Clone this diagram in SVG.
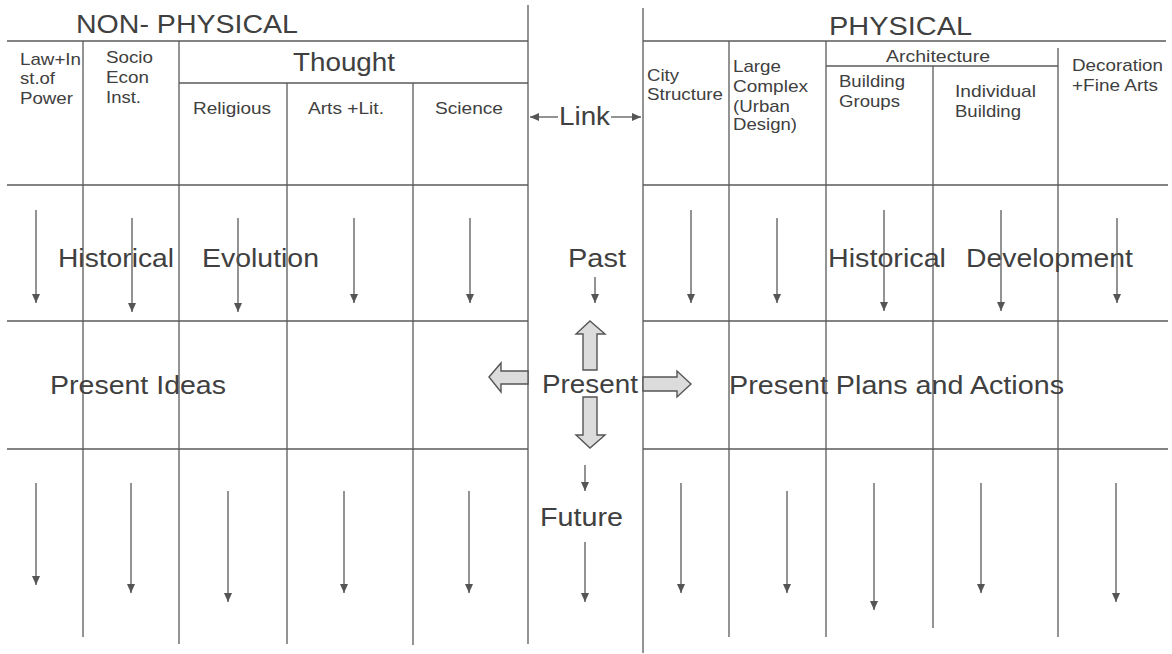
<svg xmlns="http://www.w3.org/2000/svg" width="1172" height="654" viewBox="0 0 1172 654">
<defs>
<marker id="ah" markerWidth="9" markerHeight="8" refX="9" refY="4" orient="auto" markerUnits="userSpaceOnUse" viewBox="0 0 9 8">
<path d="M0,0 L9,4 L0,8 Z" fill="#555"/>
</marker>
<style>
.g{stroke:#5a5a5a;stroke-width:1.3;fill:none}
.t{font-family:"Liberation Sans",Arial,sans-serif;fill:#404040}
.s{font-size:17px}
.b{font-size:26px}
.ar{stroke:#5a5a5a;stroke-width:1.3;fill:none}
.blk{fill:#dcdcdc;stroke:#555;stroke-width:1.4}
</style>
</defs>
<rect width="1172" height="654" fill="#fff"/>

<g id="grid">
<line class="g" x1="7" y1="41" x2="528" y2="41"/>
<line class="g" x1="179" y1="83" x2="528" y2="83"/>
<line class="g" x1="7" y1="185" x2="528" y2="185"/>
<line class="g" x1="7" y1="321" x2="528" y2="321"/>
<line class="g" x1="7" y1="449" x2="528" y2="449"/>
<line class="g" x1="83" y1="41" x2="83" y2="637"/>
<line class="g" x1="179" y1="41" x2="179" y2="644"/>
<line class="g" x1="287" y1="83" x2="287" y2="644"/>
<line class="g" x1="413" y1="83" x2="413" y2="645"/>
<line class="g" x1="528" y1="5" x2="528" y2="644"/>
<line class="g" x1="643" y1="8" x2="643" y2="653"/>
<line class="g" x1="643" y1="41" x2="1166" y2="41"/>
<line class="g" x1="643" y1="185" x2="1168" y2="185"/>
<line class="g" x1="643" y1="321" x2="1168" y2="321"/>
<line class="g" x1="643" y1="449" x2="1168" y2="449"/>
<line class="g" x1="729" y1="41" x2="729" y2="637"/>
<line class="g" x1="826" y1="41" x2="826" y2="637"/>
<line class="g" x1="826" y1="66" x2="1058" y2="66"/>
<line class="g" x1="933" y1="66" x2="933" y2="628"/>
<line class="g" x1="1058" y1="48" x2="1058" y2="637"/>
</g>

<g id="nonphysical-header">
<text class="t b" x="76" y="33" textLength="222" lengthAdjust="spacingAndGlyphs">NON- PHYSICAL</text>
<text class="t s" x="20" y="65" textLength="61" lengthAdjust="spacingAndGlyphs">Law+In</text>
<text class="t s" x="20" y="84" textLength="35" lengthAdjust="spacingAndGlyphs">st.of</text>
<text class="t s" x="20" y="104" textLength="53" lengthAdjust="spacingAndGlyphs">Power</text>
<text class="t s" x="106" y="63" textLength="47" lengthAdjust="spacingAndGlyphs">Socio</text>
<text class="t s" x="106" y="83" textLength="43" lengthAdjust="spacingAndGlyphs">Econ</text>
<text class="t s" x="106" y="103" textLength="35" lengthAdjust="spacingAndGlyphs">Inst.</text>
<text class="t b" x="293" y="71" textLength="102" lengthAdjust="spacingAndGlyphs">Thought</text>
<text class="t s" x="193" y="114" textLength="78" lengthAdjust="spacingAndGlyphs">Religious</text>
<text class="t s" x="308" y="114" textLength="76" lengthAdjust="spacingAndGlyphs">Arts +Lit.</text>
<text class="t s" x="435" y="114" textLength="68" lengthAdjust="spacingAndGlyphs">Science</text>
</g>

<g id="physical-header">
<text class="t b" x="829" y="35" textLength="143" lengthAdjust="spacingAndGlyphs">PHYSICAL</text>
<text class="t s" x="647" y="81" textLength="32" lengthAdjust="spacingAndGlyphs">City</text>
<text class="t s" x="647" y="100" textLength="76" lengthAdjust="spacingAndGlyphs">Structure</text>
<text class="t s" x="733" y="72" textLength="48" lengthAdjust="spacingAndGlyphs">Large</text>
<text class="t s" x="733" y="92" textLength="75" lengthAdjust="spacingAndGlyphs">Complex</text>
<text class="t s" x="733" y="112" textLength="57" lengthAdjust="spacingAndGlyphs">(Urban</text>
<text class="t s" x="733" y="130" textLength="64" lengthAdjust="spacingAndGlyphs">Design)</text>
<text class="t s" x="886" y="62" textLength="104" lengthAdjust="spacingAndGlyphs">Architecture</text>
<text class="t s" x="839" y="87" textLength="66" lengthAdjust="spacingAndGlyphs">Building</text>
<text class="t s" x="839" y="107" textLength="61" lengthAdjust="spacingAndGlyphs">Groups</text>
<text class="t s" x="955" y="97" textLength="81" lengthAdjust="spacingAndGlyphs">Individual</text>
<text class="t s" x="955" y="117" textLength="66" lengthAdjust="spacingAndGlyphs">Building</text>
<text class="t s" x="1072" y="71" textLength="91" lengthAdjust="spacingAndGlyphs">Decoration</text>
<text class="t s" x="1072" y="91" textLength="86" lengthAdjust="spacingAndGlyphs">+Fine Arts</text>
</g>

<g id="row-labels">
<text class="t b" x="58" y="267" textLength="116" lengthAdjust="spacingAndGlyphs">Historical</text>
<text class="t b" x="202" y="267" textLength="117" lengthAdjust="spacingAndGlyphs">Evolution</text>
<text class="t b" x="828" y="267" textLength="118" lengthAdjust="spacingAndGlyphs">Historical</text>
<text class="t b" x="966" y="267" textLength="167" lengthAdjust="spacingAndGlyphs">Development</text>
<text class="t b" x="50" y="394" textLength="176" lengthAdjust="spacingAndGlyphs">Present Ideas</text>
<text class="t b" x="729" y="394" textLength="335" lengthAdjust="spacingAndGlyphs">Present Plans and Actions</text>
</g>

<g id="center">
<text class="t b" x="559" y="125" textLength="51" lengthAdjust="spacingAndGlyphs">Link</text>
<text class="t b" x="568" y="267" textLength="58" lengthAdjust="spacingAndGlyphs">Past</text>
<text class="t b" x="542" y="393" textLength="96" lengthAdjust="spacingAndGlyphs">Present</text>
<text class="t b" x="540" y="526" textLength="83" lengthAdjust="spacingAndGlyphs">Future</text>
</g>

<g id="connectors">
<line class="ar" x1="558" y1="117" x2="530" y2="117" marker-end="url(#ah)"/>
<line class="ar" x1="611" y1="117" x2="641" y2="117" marker-end="url(#ah)"/>
<line class="ar" x1="36" y1="210" x2="36" y2="303" marker-end="url(#ah)"/>
<line class="ar" x1="132" y1="218" x2="132" y2="312" marker-end="url(#ah)"/>
<line class="ar" x1="238" y1="218" x2="238" y2="312" marker-end="url(#ah)"/>
<line class="ar" x1="354" y1="218" x2="354" y2="303" marker-end="url(#ah)"/>
<line class="ar" x1="470" y1="218" x2="470" y2="303" marker-end="url(#ah)"/>
<line class="ar" x1="691" y1="210" x2="691" y2="303" marker-end="url(#ah)"/>
<line class="ar" x1="777" y1="218" x2="777" y2="303" marker-end="url(#ah)"/>
<line class="ar" x1="884" y1="210" x2="884" y2="311" marker-end="url(#ah)"/>
<line class="ar" x1="1001" y1="210" x2="1001" y2="311" marker-end="url(#ah)"/>
<line class="ar" x1="1117" y1="218" x2="1117" y2="303" marker-end="url(#ah)"/>
<line class="ar" x1="595" y1="277" x2="595" y2="303" marker-end="url(#ah)"/>
<line class="ar" x1="36" y1="483" x2="36" y2="585" marker-end="url(#ah)"/>
<line class="ar" x1="131" y1="483" x2="131" y2="593" marker-end="url(#ah)"/>
<line class="ar" x1="228" y1="491" x2="228" y2="602" marker-end="url(#ah)"/>
<line class="ar" x1="344" y1="491" x2="344" y2="593" marker-end="url(#ah)"/>
<line class="ar" x1="469" y1="491" x2="469" y2="593" marker-end="url(#ah)"/>
<line class="ar" x1="585" y1="465" x2="585" y2="491" marker-end="url(#ah)"/>
<line class="ar" x1="585" y1="542" x2="585" y2="602" marker-end="url(#ah)"/>
<line class="ar" x1="681" y1="483" x2="681" y2="593" marker-end="url(#ah)"/>
<line class="ar" x1="787" y1="491" x2="787" y2="593" marker-end="url(#ah)"/>
<line class="ar" x1="874" y1="483" x2="874" y2="610" marker-end="url(#ah)"/>
<line class="ar" x1="981" y1="483" x2="981" y2="593" marker-end="url(#ah)"/>
<line class="ar" x1="1116" y1="483" x2="1116" y2="602" marker-end="url(#ah)"/>
<polygon class="blk" points="590,321 605,334 597,334 597,370 583,370 583,334 576,334"/>
<polygon class="blk" points="583,397 597,397 597,435 605,435 590,448 576,435 583,435"/>
<polygon class="blk" points="489,377 501,363 501,371 528,371 528,384 501,384 501,392"/>
<polygon class="blk" points="643,377 677,377 677,371 691,384 677,397 677,391 643,391"/>
</g>
</svg>
